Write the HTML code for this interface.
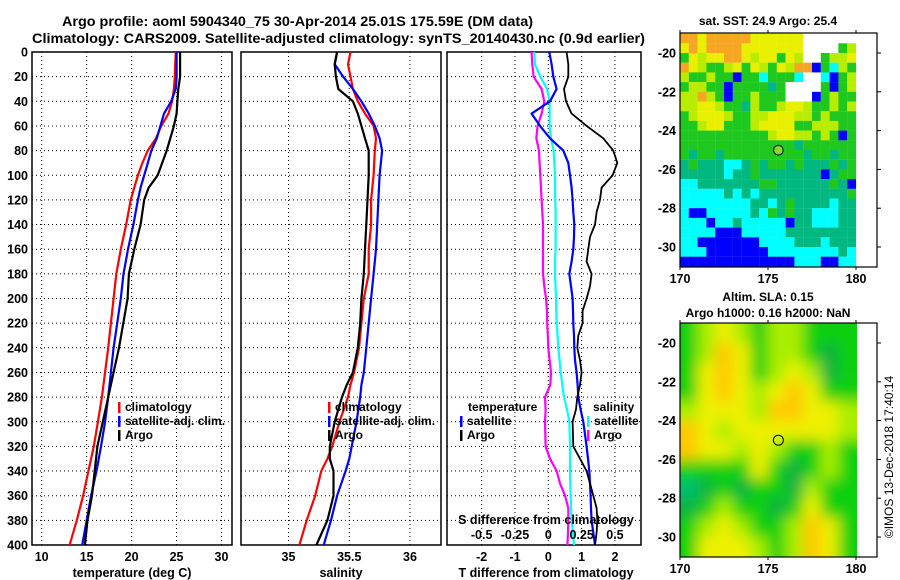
<!DOCTYPE html>
<html><head><meta charset="utf-8">
<style>
html,body{margin:0;padding:0;background:#fff;}
svg{display:block;font-family:"Liberation Sans",Arial,sans-serif;font-weight:bold;}
</style></head>
<body>
<svg id="chart" width="900" height="580" viewBox="0 0 900 580" xmlns="http://www.w3.org/2000/svg">
<defs>
<clipPath id="clipSla"><rect x="680" y="323" width="177" height="234"/></clipPath>
<filter id="blur" x="-10%" y="-10%" width="120%" height="120%"><feGaussianBlur stdDeviation="7"/></filter>
</defs>
<text x="62" y="26" font-size="14" textLength="471" lengthAdjust="spacingAndGlyphs">Argo profile: aoml 5904340_75 30-Apr-2014 25.01S 175.59E (DM data)</text>
<text x="32" y="43" font-size="14" textLength="613" lengthAdjust="spacingAndGlyphs">Climatology: CARS2009. Satellite-adjusted climatology: synTS_20140430.nc (0.9d earlier)</text>
<g id="g1"></g><g id="g2"></g><g id="g3"></g><g id="gm1"></g><g id="gm2"></g>
<text x="768" y="25" font-size="12" text-anchor="middle">sat. SST: 24.9 Argo: 25.4</text>
<text x="768" y="301" font-size="12" text-anchor="middle">Altim. SLA: 0.15</text>
<text x="768" y="317" font-size="12" text-anchor="middle">Argo h1000: 0.16 h2000: NaN</text>
<text font-size="12" font-weight="normal" transform="translate(893,457) rotate(-90)" text-anchor="middle">©IMOS 13-Dec-2018 17:40:14</text>
</svg>
<script>
// ---------- DATA ----------
const depthT = [0,20,30,40,50,60,70,80,90,100,110,120,140,160,180,200,240,280,300,320,340,360,380,400];
const tempClim = [24.9,24.8,24.7,24.5,24.1,23.3,22.7,21.8,21.2,20.7,20.3,19.9,19.4,18.8,18.3,18.0,17.4,16.7,16.25,15.8,15.2,14.6,13.9,13.1];
const tempSat = [25.0,25.0,24.9,24.4,23.6,23.2,22.8,22.2,21.8,21.4,21.0,20.7,20.2,19.6,19.1,18.8,18.0,17.4,17.05,16.6,16.1,15.5,15.0,14.5];
const tempArgo = [25.4,25.4,25.2,25.1,25.0,24.7,24.3,23.9,23.4,22.9,21.9,21.4,21.0,20.3,19.7,19.55,18.6,17.4,16.8,16.2,15.9,15.6,15.1,14.8];

const depthS = [0,10,20,30,40,50,60,70,80,100,120,140,160,180,200,220,240,260,270,280,300,320,330,340,360,380,400];
const salArgo = [35.40,35.38,35.39,35.41,35.53,35.57,35.60,35.63,35.66,35.66,35.65,35.64,35.63,35.62,35.60,35.59,35.57,35.53,35.48,35.44,35.38,35.34,35.34,35.37,35.37,35.32,35.23];
const salClim = [35.51,35.49,35.51,35.53,35.57,35.63,35.70,35.72,35.71,35.70,35.68,35.68,35.66,35.66,35.62,35.60,35.58,35.54,35.51,35.49,35.42,35.36,35.32,35.27,35.22,35.15,35.09];
const salSat = [35.40,35.38,35.45,35.53,35.60,35.66,35.71,35.75,35.77,35.75,35.74,35.73,35.72,35.70,35.68,35.66,35.64,35.62,35.60,35.59,35.56,35.52,35.50,35.47,35.40,35.35,35.29];

const depthD = [0,10,20,30,40,50,60,70,80,90,100,110,120,130,140,150,160,170,180,190,200,210,220,230,240,250,260,270,280,290,300,320,330,340,350,360,370,380,390,400];
const dTArgo = [0.55,0.6,0.6,0.47,0.53,0.70,1.15,1.65,1.95,2.07,1.93,1.6,1.55,1.45,1.4,1.25,1.2,1.15,1.3,1.25,1.15,1.03,1.03,0.9,0.87,0.95,1.0,0.95,0.87,0.83,0.73,0.75,0.95,1.15,1.25,1.35,1.45,1.47,1.45,1.4];
const dTSat = [0.03,0.1,0.15,0.25,0.05,-0.5,-0.25,0.05,0.45,0.6,0.65,0.7,0.73,0.75,0.78,0.77,0.75,0.7,0.63,0.68,0.73,0.74,0.75,0.77,0.78,0.8,0.85,0.88,0.9,0.97,1.05,1.15,1.19,1.23,1.25,1.27,1.28,1.3,1.35,1.4];
const dSSat = [-0.105,-0.1,-0.06,-0.01,0.01,0.01,0.01,0.02,0.04,0.045,0.05,0.05,0.052,0.055,0.055,0.055,0.055,0.05,0.05,0.054,0.058,0.06,0.063,0.07,0.075,0.085,0.093,0.105,0.118,0.14,0.158,0.163,0.163,0.163,0.165,0.168,0.17,0.175,0.185,0.193];
const dSArgo = [-0.125,-0.12,-0.11,-0.05,-0.03,-0.05,-0.08,-0.09,-0.07,-0.065,-0.06,-0.055,-0.05,-0.045,-0.04,-0.04,-0.04,-0.04,-0.04,-0.03,-0.017,-0.01,-0.008,-0.004,0,0.01,0.02,0.015,-0.025,-0.02,-0.025,-0.02,0.013,0.063,0.088,0.125,0.15,0.15,0.148,0.143];

const depthTicks = [0,20,40,60,80,100,120,140,160,180,200,220,240,260,280,300,320,340,360,380,400];
const tempTicks = [10,15,20,25,30];
const salTicks = [35,35.5,36];
const salTickLabels = ["35","35.5","36"];
const dTTicks = [-2,-1,0,1,2];
const dSTicks = [-0.5,-0.25,0,0.25,0.5];
const dSTickLabels = ["-0.5","-0.25","0","0.25","0.5"];

const latTicks = [-20,-22,-24,-26,-28,-30];
const lonTicks = [170,175,180];
const argoLon = 175.59, argoLat = -25.01;
const sstRows = [
"OOYOOOOOYYYYYYWWWWWW","YOYOOOOYYYYYYYWWWWGL","GYLYYOOYLYYGYLWWGLLY","OYLGGLYGYLGYLOOBGCLG",
"LGGLGGBGGCGGGCWWCBGL","GLLGGBGGGGTGWWWWGBGL","LLOLGBGGLGGGWWWBGLGG","LLYYLGGTLGGLYYLGGLGL",
"GLYYYLGGLLYYYLLGLGGG","GGLYYGGGLYYYYGGLLLGG","GGGGGGGGGGLYYLLGLGBG","GGGGGGGGGGGGGTGGGGGG",
"GTGGTGGGGGGGGGTGGTGG","TGTTTCCTGTGGTGTTTGTG","TTTTTCTTGTTTTTTTBTGG","CCTTTTTTTGGTTTTTTGTB",
"CCCCCTCTCTTTTTTTTTTG","CCCCCCCCTTCTGTTTTCTT","CBBCCCCCTCGTGTTCCCTT","CCCBCCTCCCCCBTTCCCTT",
"CCCCBBBCCCCCTTTTTTTT","CCBBBBBBBCCCCTTTCTTT","CCCBBBBBBBCCCCCCCCTC","BBBBBBBBBBBBBCCCBBCC"];
const slaRows = ["GLYLGLLGGG","GLOYGLLGDG","GYOYGLYLDG","GYOYLYOYGG","LYYYLOOYYL","OYLYYYYYYL",
"OYYLYLGGLG","GGGGYGDGLG","TDGDGGDLGG","DGLGGDGYGG","GLYLGGLOYG","GYYYLGLOYG"];
const sstColors = {O:"#f5a623",Y:"#e8f000",L:"#b8ec00",G:"#1ec81e",T:"#00b880",C:"#00ffff",B:"#0000ff",W:"#ffffff"};
const slaColors = {G:"#10d010",D:"#10b040",L:"#a8ee00",Y:"#eef000",O:"#ffc800",T:"#00c070"};

// ---------- HELPERS ----------
const NS = "http://www.w3.org/2000/svg";
function mk(parent, tag, attrs, text){
  const e = document.createElementNS(NS, tag);
  for (const k in attrs) e.setAttribute(k, attrs[k]);
  if (text !== undefined) e.textContent = text;
  parent.appendChild(e); return e;
}
const yD = d => 52 + d * 1.2325;
const xT = t => 41.7 + (t - 10) * 8.99;
const xS = s => 288.5 + (s - 35) * 121.5;
const xDT = v => 548.3 + v * 33.33;
const xDS = v => 548.3 + v * 133.3;

function panel(g, x0, x1, gridXs, ylabels, name){
  for (const d of depthTicks){
    if (d === 0 || d === 400) continue;
    const l = mk(g,"line",{x1:x0,x2:x1,y1:yD(d),y2:yD(d),stroke:"#000","stroke-width":1,"stroke-dasharray":"1,3"});
    
    
  }
  for (const gx of gridXs){
    const l = mk(g,"line",{x1:gx,x2:gx,y1:yD(0),y2:yD(400),stroke:"#000","stroke-width":1,"stroke-dasharray":"1,3"});
    
    
  }
  const r = mk(g,"rect",{x:x0,y:yD(0),width:x1-x0,height:yD(400)-yD(0),fill:"none",stroke:"#000","stroke-width":1.5});
  
  
  if (ylabels){
    for (const d of depthTicks){
      const t = mk(g,"text",{x:28,y:yD(d)+4.5,"font-size":12.5,"text-anchor":"end"},String(d));
      
      
    }
  }
}
function series(g, xs, ys, xf, color, name, w){
  const pts = xs.map((v,i)=> xf(v).toFixed(1)+","+yD(ys[i]).toFixed(1)).join(" ");
  const p = mk(g,"polyline",{points:pts,fill:"none",stroke:color,"stroke-width":w||2.2,"stroke-linejoin":"round"});
  
  
}
function txt(g, x, y, s, name, size, anchor){
  const t = mk(g,"text",{x:x,y:y,"font-size":size||12,"text-anchor":anchor||"start"},s);
  
  
  return t;
}
function legendEntry(g, x, y, color, label, name){
  const b = mk(g,"rect",{x:x,y:y-9,width:2.5,height:11,fill:color});
  
  
  if (label) txt(g, x+7, y, label, name);
}

// ---------- PANEL 1 ----------
const g1 = document.getElementById("g1");
panel(g1, 32, 232, tempTicks.map(xT), true, "temp-panel");
series(g1, tempClim, depthT, xT, "#ff0000", "temp-climatology-line");
series(g1, tempSat, depthT, xT, "#0000ff", "temp-satellite-line");
series(g1, tempArgo, depthT, xT, "#000000", "temp-argo-line");
tempTicks.forEach(t=>txt(g1, xT(t), 561, String(t), "temp-tick-label", 12.5, "middle"));
txt(g1, 132, 577, "temperature (deg C)", "temp-axis-title", 12.5, "middle");
legendEntry(g1, 118, 411, "#ff0000", "climatology", "legend-climatology");
legendEntry(g1, 118, 425, "#0000ff", "satellite-adj. clim.", "legend-satellite");
legendEntry(g1, 118, 439, "#000000", "Argo", "legend-argo");

// ---------- PANEL 2 ----------
const g2 = document.getElementById("g2");
panel(g2, 241, 441, salTicks.map(xS), false, "sal-panel");
series(g2, salClim, depthS, xS, "#ff0000", "sal-climatology-line");
series(g2, salSat, depthS, xS, "#0000ff", "sal-satellite-line");
series(g2, salArgo, depthS, xS, "#000000", "sal-argo-line");
salTicks.forEach((s,i)=>txt(g2, xS(s), 561, salTickLabels[i], "sal-tick-label", 12.5, "middle"));
txt(g2, 341, 577, "salinity", "sal-axis-title", 12.5, "middle");
legendEntry(g2, 328, 411, "#ff0000", "climatology", "legend-climatology");
legendEntry(g2, 328, 425, "#0000ff", "satellite-adj. clim.", "legend-satellite");
legendEntry(g2, 328, 439, "#000000", "Argo", "legend-argo");

// ---------- PANEL 3 ----------
const g3 = document.getElementById("g3");
panel(g3, 447, 641, dTTicks.map(xDT), false, "diff-panel");
series(g3, dSArgo, depthD, xDS, "#ff00ff", "sal-diff-argo-line");
series(g3, dSSat, depthD, xDS, "#00ffff", "sal-diff-satellite-line");
series(g3, dTSat, depthD, xDT, "#0000ff", "temp-diff-satellite-line");
series(g3, dTArgo, depthD, xDT, "#000000", "temp-diff-argo-line", 1.8);
txt(g3, 468, 411, "temperature", "legend-temperature-heading");
legendEntry(g3, 460, 425, "#0000ff", "satellite", "legend-temp-satellite");
legendEntry(g3, 460, 439, "#000000", "Argo", "legend-temp-argo");
txt(g3, 593, 411, "salinity", "legend-salinity-heading");
legendEntry(g3, 587, 425, "#00ffff", "satellite", "legend-sal-satellite");
legendEntry(g3, 587, 439, "#ff00ff", "Argo", "legend-sal-argo");
txt(g3, 546, 524, "S difference from climatology", "sal-diff-axis-title", 12.5, "middle");
dSTicks.forEach((v,i)=>txt(g3, xDS(v), 539, dSTickLabels[i], "sal-diff-tick-label", 12.5, "middle"));
dTTicks.forEach(v=>txt(g3, xDT(v), 561, String(v), "temp-diff-tick-label", 12.5, "middle"));
txt(g3, 546, 577, "T difference from climatology", "temp-diff-axis-title", 12.5, "middle");

// ---------- MAPS ----------
const mx = lon => 680 + (lon - 170) * 17.6;
function mapFrame(g, top, name){
  const my = lat => top + 20 + (-20 - lat) * 19.4;
  const r = mk(g,"rect",{x:680,y:top,width:197,height:234,fill:"none",stroke:"#000","stroke-width":1.2});
  
  
  for (const la of latTicks){
    mk(g,"line",{x1:877,x2:881,y1:my(la),y2:my(la),stroke:"#000"});
    txt(g, 676, my(la)+4.5, String(la), name+"-lat-label", 12.5, "end");
  }
  for (const lo of lonTicks){
    mk(g,"line",{x1:mx(lo),x2:mx(lo),y1:top,y2:top-3,stroke:"#000"});
    mk(g,"line",{x1:mx(lo),x2:mx(lo),y1:top+234,y2:top+237,stroke:"#000"});
    txt(g, mx(lo), top+250, String(lo), name+"-lon-label", 12.5, "middle");
  }
  return my;
}
const gm1 = document.getElementById("gm1");
{
  const top = 33;
  sstRows.forEach((row,ri)=>{
    for (let ci=0; ci<row.length; ci++){
      const lon = 170 + ci*0.5, lat = -19 - ri*0.5;
      const c = mk(gm1,"rect",{x:mx(lon),y:top+20+(-20-lat)*19.4,width:8.9,height:9.8,fill:sstColors[row[ci]]});
      
      
    }
  });
  const my = mapFrame(gm1, top, "sst-map");
  const m = mk(gm1,"circle",{cx:mx(argoLon),cy:my(argoLat),r:4.8,fill:"#7fe020",stroke:"#000","stroke-width":1});
  
  
}
const gm2 = document.getElementById("gm2");
{
  const top = 323;
  const gg = mk(gm2,"g",{"clip-path":"url(#clipSla)"});
  const gb = mk(gg,"g",{filter:"url(#blur)"});
  slaRows.forEach((row,ri)=>{
    for (let ci=0; ci<row.length; ci++){
      const lon = 170 + ci, lat = -19 - ri;
      const x0 = ci===0 ? mx(lon)-20 : mx(lon);
      const w = (ci===0||ci===row.length-1) ? 17.7+20 : 17.7;
      const y0 = ri===0 ? top+20+(-20-lat)*19.4-20 : top+20+(-20-lat)*19.4;
      const h = (ri===0||ri===slaRows.length-1) ? 19.5+20 : 19.5;
      const c = mk(gb,"rect",{x:x0,y:y0,width:w,height:h,fill:slaColors[row[ci]]});
      
      
    }
  });
  const my = mapFrame(gm2, top, "sla-map");
  const m = mk(gm2,"circle",{cx:mx(argoLon),cy:my(argoLat),r:5,fill:"none",stroke:"#000","stroke-width":1});
  
  
}
</script>
</body></html>
